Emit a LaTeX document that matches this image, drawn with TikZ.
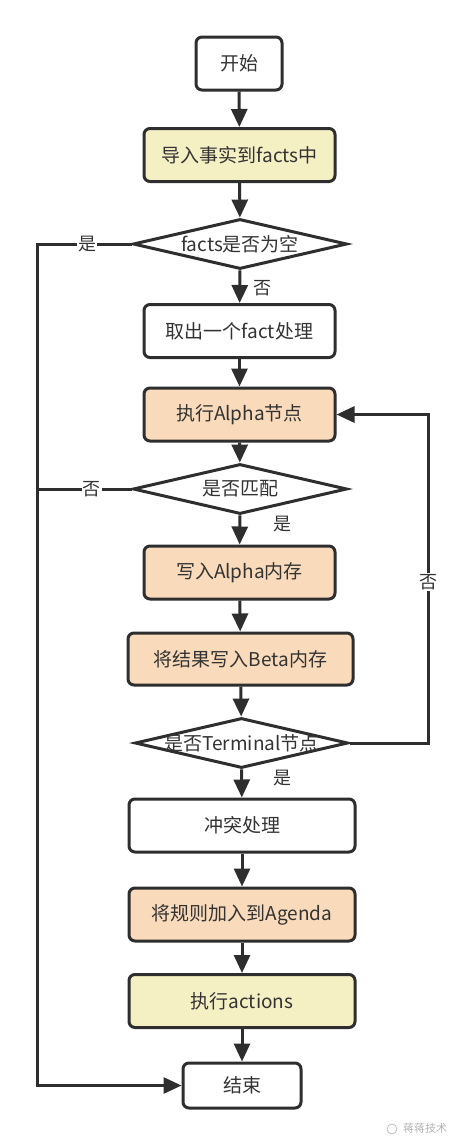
\documentclass[tikz,border=0pt]{standalone}
\usepackage{fontspec}
\setmainfont{Noto Sans CJK SC}
\usetikzlibrary{shapes.geometric,arrows.meta}
\definecolor{ink}{HTML}{2E2E2E}
\definecolor{txt}{HTML}{333333}
\definecolor{yel}{HTML}{F5EFC4}
\definecolor{peach}{HTML}{F9DABA}
\tikzset{
  box/.style={draw=ink, line width=3pt, rounded corners=6pt, fill=white, text=txt,
              minimum height=53pt, inner sep=0pt, font=\fontsize{19}{22}\selectfont},
  dec/.style={draw=ink, line width=3pt, shape=diamond, fill=white, text=txt,
              minimum width=214pt, minimum height=50pt, inner sep=0pt, font=\fontsize{19}{22}\selectfont},
  arr/.style={draw=ink, line width=3pt, -{Triangle[width=16pt,length=18pt]}},
  ln/.style={draw=ink, line width=3pt},
  lbl/.style={fill=white, text=txt, inner sep=1pt, font=\fontsize{18}{21}\selectfont},
  lbl2/.style={text=txt, inner sep=0pt, font=\fontsize{18}{21}\selectfont}
}
\begin{document}
\begin{tikzpicture}[x=1pt,y=-1pt]
\useasboundingbox[fill=white] (0,0) rectangle (464,1146);
\node[box, minimum width=86pt] (start) at (239,63.5) {开始};
\node[box, minimum width=191pt, fill=yel] (import) at (239.5,155) {导入事实到facts中};
\node[dec] (d1) at (240,244) {\makebox[0pt]{facts是否为空}};
\node[box, minimum width=191pt] (take) at (239.5,331) {取出一个fact处理};
\node[box, minimum width=191pt, fill=peach] (alpha) at (239.5,414.5) {执行Alpha节点};
\node[dec] (d2) at (240,489) {\makebox[0pt]{是否匹配}};
\node[box, minimum width=191pt, fill=peach] (amem) at (239.5,572.5) {写入Alpha内存};
\node[box, minimum width=225pt, minimum height=52pt, fill=peach] (beta) at (240.5,659) {将结果写入Beta内存};
\node[dec, minimum width=213pt] (d3) at (241.5,743) {\makebox[0pt]{是否Terminal节点}};
\node[box, minimum width=226pt] (conf) at (242,825.5) {冲突处理};
\node[box, minimum width=226pt, fill=peach] (agenda) at (242,914.5) {将规则加入到Agenda};
\node[box, minimum width=226pt, fill=yel] (act) at (242,1001) {执行actions};
\node[box, minimum width=118pt, minimum height=45pt] (end) at (242,1085.5) {结束};

\coordinate (L1) at (37,244);
\coordinate (R1) at (428,743);
\coordinate (R2) at (428,414.5);

\draw[arr] (start) -- (import);
\draw[arr] (import) -- (d1);
\draw[arr] (d1) -- node[lbl2, pos=0.55, right=12pt]{否} (take);
\draw[arr] (take) -- (alpha);
\draw[arr] (alpha) -- (d2);
\draw[arr] (d2) -- node[lbl2, pos=0.3, right=32pt]{是} (amem);
\draw[arr] (amem) -- (beta);
\draw[arr] (beta) -- (d3);
\draw[arr] (d3) -- node[lbl2, pos=0.3, right=30pt]{是} (conf);
\draw[arr] (conf) -- (agenda);
\draw[arr] (agenda) -- (act);
\draw[arr] (act) -- (end);

\draw[arr] (d1.west) -- node[lbl, pos=0.47]{是} (L1) |- (end.west);
\draw[ln] (d2.west) -- node[lbl, pos=0.42]{否} (d2.west -| L1);
\draw[arr] (d3.east) -- (R1) -- node[lbl, pos=0.49]{否} (R2) -- (alpha.east);

% watermark
\draw[black!25, line width=0.8pt] (392,1129) circle (5pt);
\node[text=black!30, font=\fontsize{11}{12}\selectfont, inner sep=0pt, anchor=west] (wm) at (403,1128) {蒋蒋技术};
\end{tikzpicture}
\end{document}
